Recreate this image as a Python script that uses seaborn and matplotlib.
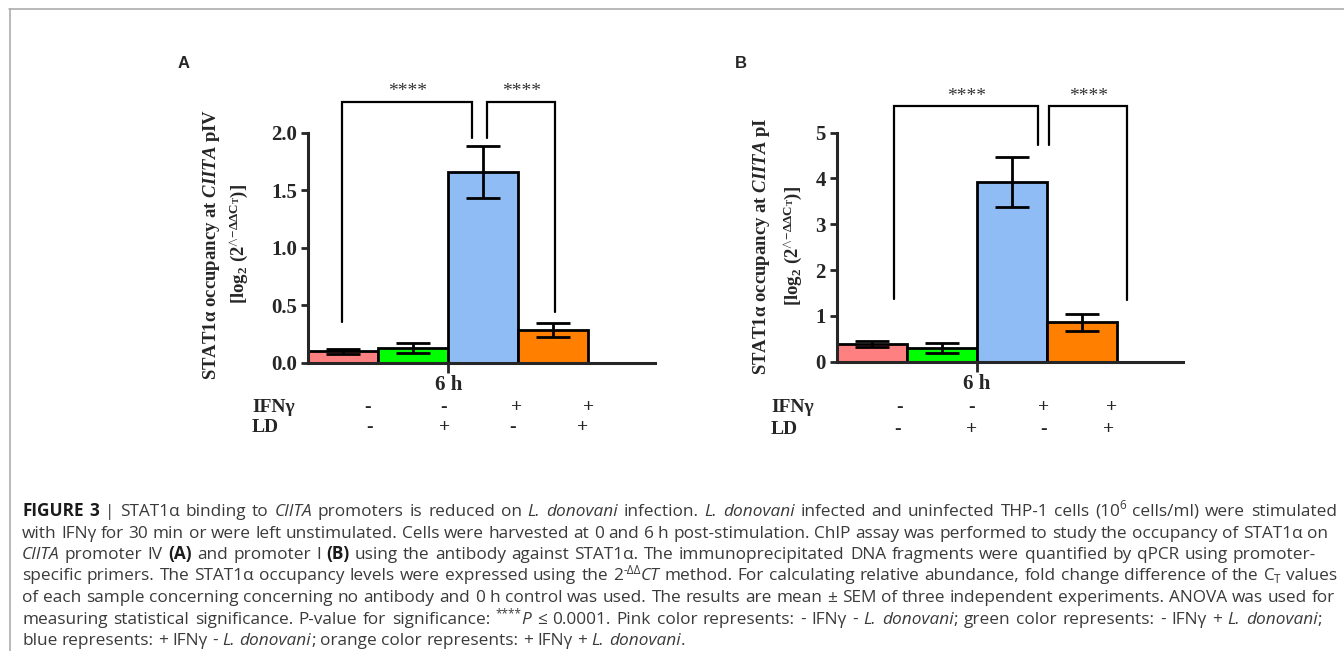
import matplotlib
matplotlib.use("agg")
import matplotlib.pyplot as plt
from matplotlib.lines import Line2D
import pandas as pd
import seaborn as sns

W, H = 1344, 651

# ---- data ----
groups = ['- IFNg - LD', '- IFNg + LD', '+ IFNg - LD', '+ IFNg + LD']
bar_colors = ['#ff8080', '#00ff00', '#8fbcf5', '#ff8000']
piv_mean = [0.10, 0.125, 1.66, 0.285]
piv_sem = [0.02, 0.043, 0.226, 0.058]
pi_mean = [0.39, 0.29, 3.92, 0.86]
pi_sem = [0.06, 0.11, 0.54, 0.19]
ifng_signs = ['-', '-', '+', '+']
ld_signs = ['-', '+', '-', '+']
# brackets: x left, x right, left leg end, right leg end, top
piv_brackets = [(-0.01, 1.84, 0.357, 1.95, 2.27), (2.06, 3.03, 1.95, 0.443, 2.27)]
pi_brackets = [(0.32, 2.38, 1.36, 4.73, 5.58), (2.54, 3.65, 4.73, 1.35, 5.58)]
star_label = '****'

sns.set_style('ticks')
plt.rcParams['font.family'] = ['Liberation Serif', 'DejaVu Serif']
plt.rcParams['mathtext.fontset'] = 'custom'
plt.rcParams['mathtext.rm'] = 'Liberation Serif:bold'
plt.rcParams['mathtext.it'] = 'Liberation Serif:italic:bold'
plt.rcParams['mathtext.bf'] = 'Liberation Serif:bold'

fig = plt.figure(figsize=(W / 100, H / 100), dpi=100)


def px(x, y):
    return x / W, 1 - y / H


def draw_panel(rect, means, sems, ymax, yticks, yticklabels, brackets, star_y):
    ax = fig.add_axes(rect)
    df = pd.DataFrame({'group': groups, 'value': means})
    sns.barplot(data=df, x='group', y='value', hue='group', palette=bar_colors,
                legend=False, width=1.0, saturation=1, edgecolor='black',
                linewidth=2.0, ax=ax, zorder=2)
    ax.errorbar(range(len(means)), means, yerr=sems, fmt='none', ecolor='black',
                elinewidth=2.0, capsize=12, capthick=2.0, zorder=5, clip_on=False)
    for xl, xr, yl, yr, top in brackets:
        ax.plot([xl, xl, xr, xr], [yl, top, top, yr], color='black', lw=1.6,
                clip_on=False, solid_joinstyle='miter')
        ax.text((xl + xr) / 2, star_y, star_label, ha='center', va='center',
                fontsize=14, color='#333333')
    ax.set_xlim(-0.5, 4.45)
    ax.set_ylim(0, ymax)
    ax.set_yticks(yticks, yticklabels)
    ax.set_xticks([1.5], ['6 h'])
    ax.set_xlabel('')
    ax.set_ylabel('')
    sns.despine(ax=ax)
    for s in ['left', 'bottom']:
        ax.spines[s].set_linewidth(2.2)
    ax.tick_params(axis='y', length=5, width=2.0, pad=3, labelsize=15)
    ax.tick_params(axis='x', length=7, width=2.0, pad=2, labelsize=15)
    for lab in ax.get_xticklabels() + ax.get_yticklabels():
        lab.set_fontweight('bold')
    return ax


axA = draw_panel([308 / W, 1 - 362.7 / H, 347 / W, 230 / H], piv_mean, piv_sem, 2.0,
                 [0, 0.5, 1.0, 1.5, 2.0], ['0.0', '0.5', '1.0', '1.5', '2.0'],
                 piv_brackets, 2.36)
axB = draw_panel([837 / W, 1 - 361.7 / H, 346 / W, 229 / H], pi_mean, pi_sem, 5,
                 [0, 1, 2, 3, 4, 5], ['0', '1', '2', '3', '4', '5'],
                 pi_brackets, 5.78)

# panel letters
fig.text(*px(184, 64), 'A', ha='center', va='center', fontsize=12, fontweight='bold',
         family=['Liberation Sans', 'DejaVu Sans'])
fig.text(*px(741, 64), 'B', ha='center', va='center', fontsize=12, fontweight='bold',
         family=['Liberation Sans', 'DejaVu Sans'])

# y labels
ylab1 = 'STAT1\u03b1 occupancy at $\\mathit{CIITA}$ p{}'
ylab2 = '[log$_2$ (2$^{\\wedge\\mathrm{-}\\Delta\\Delta \\mathrm{C}_\\mathrm{T}}$)]'
for (x1, x2, yc), suffix in [((211, 239, 244), 'IV'), ((762, 793, 246), 'I')]:
    fig.text(*px(x1, yc), ylab1.replace('{}', suffix), rotation=90, ha='center',
             va='center', fontsize=13.5, fontweight='bold')
    fig.text(*px(x2, yc), ylab2, rotation=90, ha='center', va='center',
             fontsize=13.5, fontweight='bold')

# treatment table under the bars
rows = [
    (252, [407, 428], [[368, 444, 517, 589], [370, 445, 513, 583]]),
    (771, [408, 429], [[900, 972, 1044, 1112], [898, 972, 1044, 1109]]),
]
for xlab, ys, xs in rows:
    for name, y, xrow, signs in zip(['IFN\u03b3', 'LD'], ys, xs, [ifng_signs, ld_signs]):
        fig.text(*px(xlab, y), name, ha='left', va='center', fontsize=14, fontweight='bold')
        for xx, sg in zip(xrow, signs):
            fig.text(*px(xx, y), sg, ha='center', va='center', fontsize=14, fontweight='bold')

# frame lines
fig.add_artist(Line2D([9 / W, 1], [1 - 8.5 / H, 1 - 8.5 / H], transform=fig.transFigure,
                      color='#a6a6a6', lw=1.1))
fig.add_artist(Line2D([9.5 / W, 9.5 / W], [0, 1 - 8.5 / H], transform=fig.transFigure,
                      color='#a6a6a6', lw=1.1))

# ---- caption ----
cap_family = ['Open Sans', 'Roboto', 'DejaVu Sans']
cap_color = '#3a3a3a'
L = 'L. donovani'
cap_lines = [
    [('FIGURE 3', 'b'), (' | STAT1\u03b1 binding to ', 'n'), ('CIITA', 'i'),
     (' promoters is reduced on ', 'n'), (L, 'i'), (' infection. ', 'n'), (L, 'i'),
     (' infected and uninfected THP-1 cells (10', 'n'), ('6', 'sup'),
     (' cells/ml) were stimulated', 'n')],
    [('with IFN\u03b3 for 30 min or were left unstimulated. Cells were harvested at 0 and 6 h '
      'post-stimulation. ChIP assay was performed to study the occupancy of STAT1\u03b1 on', 'n')],
    [('CIITA', 'i'), (' promoter IV ', 'n'), ('(A)', 'b'), (' and promoter I ', 'n'), ('(B)', 'b'),
     (' using the antibody against STAT1\u03b1. The immunoprecipitated DNA fragments were '
      'quantified by qPCR using promoter-', 'n')],
    [('specific primers. The STAT1\u03b1 occupancy levels were expressed using the 2', 'n'),
     ('-\u0394\u0394', 'sup'), ('CT', 'i'),
     (' method. For calculating relative abundance, fold change difference of the C', 'n'),
     ('T', 'sub'), (' values', 'n')],
    [('of each sample concerning concerning no antibody and 0 h control was used. The results '
      'are mean \u00b1 SEM of three independent experiments. ANOVA was used for', 'n')],
    [('measuring statistical significance. P-value for significance: ', 'n'), ('****', 'sup'),
     ('P', 'i'), (' \u2264 0.0001. Pink color represents: - IFN\u03b3 - ', 'n'), (L, 'i'),
     ('; green color represents: - IFN\u03b3 + ', 'n'), (L, 'i'), (';', 'n')],
    [('blue represents: + IFN\u03b3 - ', 'n'), (L, 'i'),
     ('; orange color represents: + IFN\u03b3 + ', 'n'), (L, 'i'), ('.', 'n')],
]
cap_right = [1337, 1328, 1316, 1337, 1335, 1322, None]
cap_x0 = 22
cap_base0 = 516
cap_step = 21.5

renderer = fig.canvas.get_renderer()


def make_piece(txt, style, fs):
    kw = dict(fontsize=fs, family=cap_family, color=cap_color, ha='left', va='baseline')
    if style == 'b':
        kw['fontweight'] = 'bold'
        kw['color'] = '#1a1a1a'
    if style == 'i':
        kw['fontstyle'] = 'italic'
    if style in ('sup', 'sub'):
        kw['fontsize'] = fs * 0.68
    return fig.text(0, 0, txt, **kw)


def split_words(pieces):
    words = [[]]
    for txt, style in pieces:
        parts = txt.split(' ')
        for k, p in enumerate(parts):
            if k > 0:
                words.append([])
            if p:
                words[-1].append((p, style))
    return [w for w in words if w]


def width(t):
    return t.get_window_extent(renderer).width


def space_width(fs):
    a = fig.text(0, 0, 'a a', fontsize=fs, family=cap_family)
    b = fig.text(0, 0, 'aa', fontsize=fs, family=cap_family)
    w = width(a) - width(b)
    a.remove()
    b.remove()
    return w


def build_line(pieces, fs):
    built = []
    for w in split_words(pieces):
        arts = []
        for txt, style in w:
            t = make_piece(txt, style, fs)
            arts.append((t, style, width(t)))
        built.append(arts)
    return built


# pick a size so the fullest line just fits with normal spacing
fs0 = 10.0
sw0 = space_width(fs0)
ratios = []
for pieces, right in zip(cap_lines, cap_right):
    if right is None:
        continue
    built = build_line(pieces, fs0)
    natural = sum(a[2] for arts in built for a in arts) + sw0 * (len(built) - 1)
    ratios.append((right - cap_x0) / natural)
    for arts in built:
        for a in arts:
            a[0].remove()
fs = max(9.5, min(12.5, fs0 * min(ratios) * 0.995))
sw = space_width(fs)

for i, pieces in enumerate(cap_lines):
    base = cap_base0 + i * cap_step
    built = build_line(pieces, fs)
    wsum = [sum(a[2] for a in arts) for arts in built]
    if cap_right[i] is None:
        gap = sw
    else:
        gap = (cap_right[i] - cap_x0 - sum(wsum)) / (len(built) - 1)
    x = cap_x0
    for arts, ww in zip(built, wsum):
        xx = x
        for t, style, wd in arts:
            dy = 0
            if style == 'sup':
                dy = -fs * 1.389 * 0.38
            elif style == 'sub':
                dy = fs * 1.389 * 0.15
            t.set_position(px(xx, base + dy))
            xx += wd
        x += ww + gap

fig.savefig('out.png', dpi=100)
